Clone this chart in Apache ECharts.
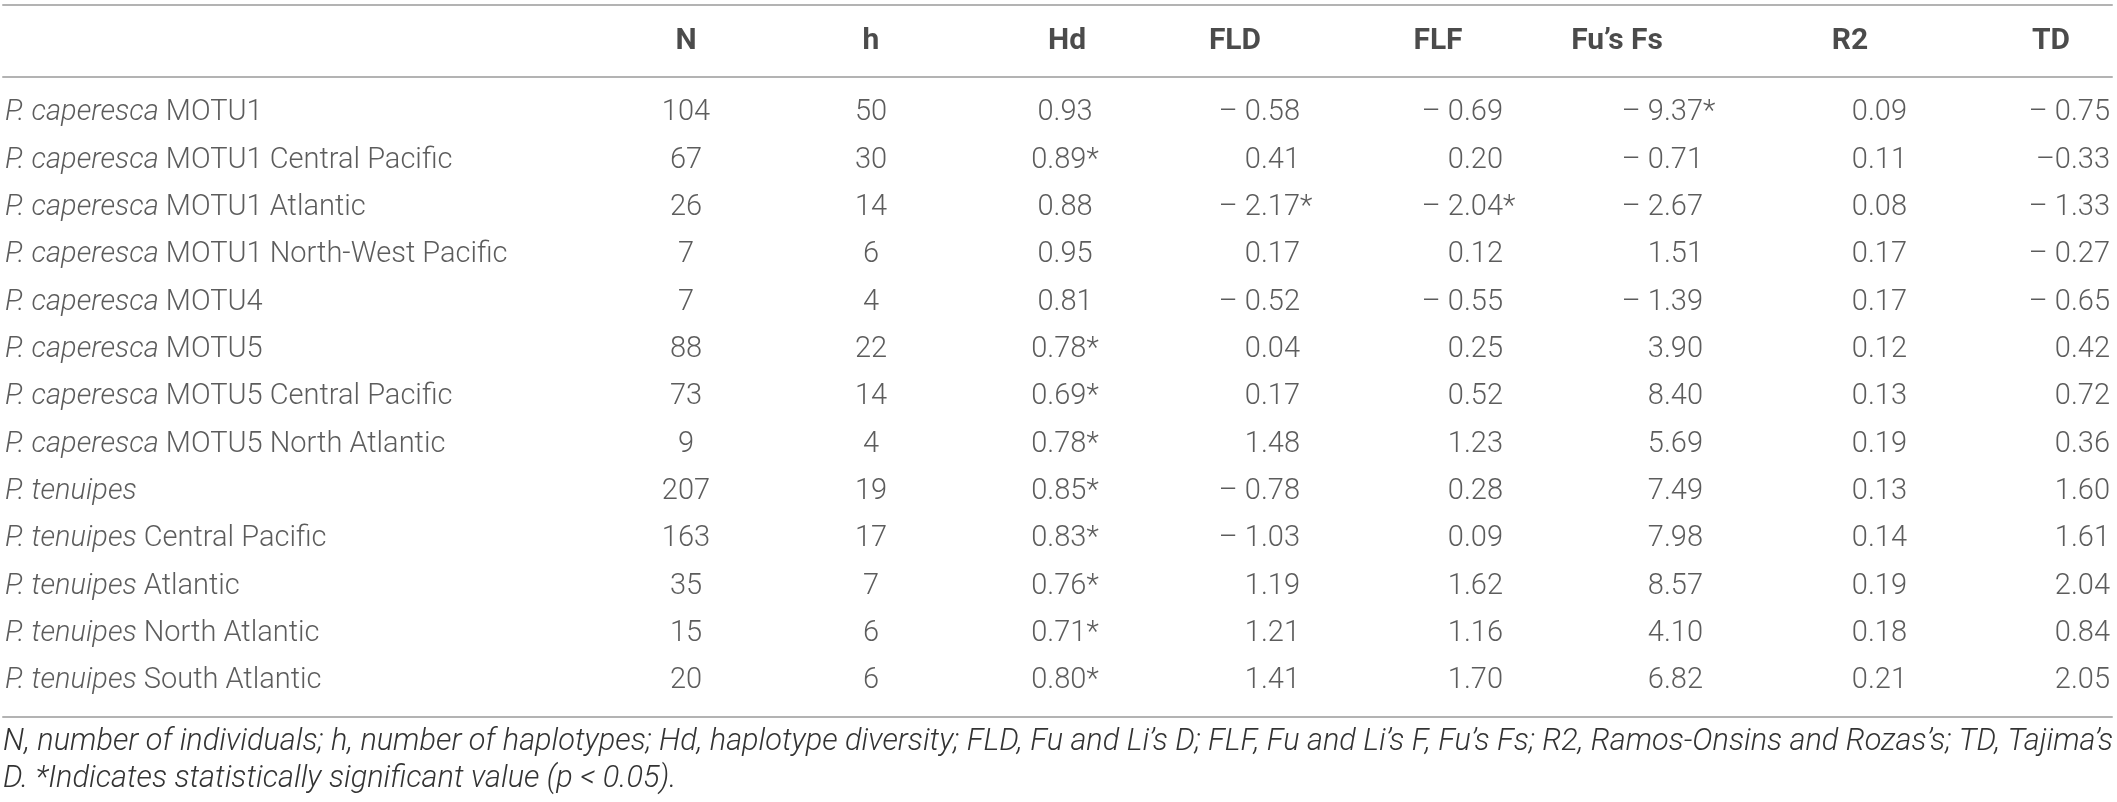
<!DOCTYPE html>
<html>
<head>
<meta charset="utf-8">
<script src="https://cdn.jsdelivr.net/npm/echarts@6/dist/echarts.min.js"></script>
<style>
  html, body { margin: 0; padding: 0; background: #fff; }
  #main { width: 2117px; height: 802px; }
</style>
</head>
<body>
<div id="main"></div>
<script>
// table content
let species = ['P. caperesca', 'P. caperesca', 'P. caperesca', 'P. caperesca', 'P. caperesca', 'P. caperesca', 'P. caperesca', 'P. caperesca',
    'P. tenuipes', 'P. tenuipes', 'P. tenuipes', 'P. tenuipes', 'P. tenuipes'];
let groups = ['MOTU1', 'MOTU1 Central Pacific', 'MOTU1 Atlantic', 'MOTU1 North-West Pacific', 'MOTU4', 'MOTU5', 'MOTU5 Central Pacific', 'MOTU5 North Atlantic',
    '', 'Central Pacific', 'Atlantic', 'North Atlantic', 'South Atlantic'];
let headers = ['N', 'h', 'Hd', 'FLD', 'FLF', 'Fu’s Fs', 'R2', 'TD'];

let N = [104, 67, 26, 7, 7, 88, 73, 9, 207, 163, 35, 15, 20];
let h = [50, 30, 14, 6, 4, 22, 14, 4, 19, 17, 7, 6, 6];
let Hd = ['0.93', '0.89*', '0.88', '0.95', '0.81', '0.78*', '0.69*', '0.78*', '0.85*', '0.83*', '0.76*', '0.71*', '0.80*'];
let FLD = ['– 0.58', '0.41', '– 2.17*', '0.17', '– 0.52', '0.04', '0.17', '1.48', '– 0.78', '– 1.03', '1.19', '1.21', '1.41'];
let FLF = ['– 0.69', '0.20', '– 2.04*', '0.12', '– 0.55', '0.25', '0.52', '1.23', '0.28', '0.09', '1.62', '1.16', '1.70'];
let FuFs = ['– 9.37*', '– 0.71', '– 2.67', '1.51', '– 1.39', '3.90', '8.40', '5.69', '7.49', '7.98', '8.57', '4.10', '6.82'];
let R2 = ['0.09', '0.11', '0.08', '0.17', '0.17', '0.12', '0.13', '0.19', '0.13', '0.14', '0.19', '0.18', '0.21'];
let TD = ['– 0.75', '–0.33', '– 1.33', '– 0.27', '– 0.65', '0.42', '0.72', '0.36', '1.60', '1.61', '2.04', '0.84', '2.05'];

let footnote = 'N, number of individuals; h, number of haplotypes; Hd, haplotype diversity; FLD, Fu and Li’s D; FLF, Fu and Li’s F, Fu’s Fs; R2, Ramos-Onsins and Rozas’s; TD, Tajima’s\n' +
    'D. *Indicates statistically significant value (p < 0.05).';

// layout: anchor of each column on the hidden x axis, and how text sits on it
let columns = [
    {values: N, x: 683, align: 'center'},
    {values: h, x: 868, align: 'center'},
    {values: Hd, x: 1062, align: 'center'},
    {values: FLD, x: 1297, align: 'right'},
    {values: FLF, x: 1500, align: 'right'},
    {values: FuFs, x: 1700, align: 'right'},
    {values: R2, x: 1904, align: 'right'},
    {values: TD, x: 2107, align: 'right'}
];
let headerX = [683, 868, 1064, 1232, 1435, 1614, 1847, 2048];

let font = 'Roboto, "Liberation Sans", sans-serif';
let bodyText = {fontFamily: font, fontSize: 29, fontWeight: 300, color: '#333'};
let rule = {show: true, onZero: false, lineStyle: {color: '#b3b3b3', width: 2}};
let rowNames = species.map((s, i) => s + ' ' + groups[i]);

function hiddenX(grid, pos, line, offset) {
    return {
        type: 'value', gridIndex: grid, position: pos, min: 0, max: 2109, offset: offset || 0,
        axisLine: line ? rule : {show: false},
        axisTick: {show: false}, axisLabel: {show: false}, splitLine: {show: false}
    };
}
function hiddenY(grid, data, gap) {
    return {
        type: 'category', gridIndex: grid, data: data, inverse: true, boundaryGap: gap,
        axisLine: {show: false}, axisTick: {show: false}, axisLabel: {show: false}, splitLine: {show: false}
    };
}

let series = [];

// first column, species name in italics
series.push({
    type: 'scatter', xAxisIndex: 0, yAxisIndex: 0, symbolSize: 0,
    data: rowNames.map((r, i) => [2, i]),
    label: {
        show: true, position: 'right', distance: 0,
        formatter: p => '{i|' + species[p.dataIndex] + '}' + (groups[p.dataIndex] ? ' ' + groups[p.dataIndex] : ''),
        ...bodyText,
        rich: {i: {...bodyText, fontStyle: 'italic'}}
    }
});

columns.forEach(col => {
    let text = col.values.map(v => String(v));
    if (col.align === 'center') {
        series.push({
            type: 'scatter', xAxisIndex: 0, yAxisIndex: 0, symbolSize: 0,
            data: text.map((t, i) => [col.x, i]),
            label: {show: true, position: 'inside', formatter: p => text[p.dataIndex], ...bodyText}
        });
    } else {
        // numbers end on the anchor, the significance star hangs to the right
        series.push({
            type: 'scatter', xAxisIndex: 0, yAxisIndex: 0, symbolSize: 0,
            data: text.map((t, i) => [col.x, i]),
            label: {show: true, position: 'left', distance: 0, formatter: p => text[p.dataIndex].replace('*', ''), ...bodyText}
        });
        let stars = [];
        text.forEach((t, i) => { if (t.indexOf('*') >= 0) stars.push([col.x, i]); });
        series.push({
            type: 'scatter', xAxisIndex: 0, yAxisIndex: 0, symbolSize: 0,
            data: stars,
            label: {show: true, position: 'right', distance: 0, formatter: '*', ...bodyText}
        });
    }
});

// header row
series.push({
    type: 'scatter', xAxisIndex: 1, yAxisIndex: 1, symbolSize: 0,
    data: headers.map((t, i) => [headerX[i], 0]),
    label: {
        show: true, position: 'inside', formatter: p => headers[p.dataIndex],
        fontFamily: font, fontSize: 30, fontWeight: 'bold', color: '#1e1e1e'
    }
});

let myChart = echarts.init(document.getElementById('main'));
myChart.setOption({
    animation: false,
    backgroundColor: '#fff',
    title: {
        text: footnote, left: 3, top: 724, padding: 0,
        textStyle: {fontFamily: font, fontSize: 30.7, fontWeight: 300, fontStyle: 'italic', color: '#333', lineHeight: 37}
    },
    grid: [
        {left: 3, right: 5, top: 113, bottom: 121},
        {left: 3, right: 5, top: 5, height: 72}
    ],
    xAxis: [
        hiddenX(0, 'bottom', true, 36),
        hiddenX(1, 'top', true),
        hiddenX(1, 'bottom', true)
    ],
    yAxis: [
        hiddenY(0, rowNames, false),
        hiddenY(1, ['header'], true)
    ],
    series: series
});
</script>
</body>
</html>
